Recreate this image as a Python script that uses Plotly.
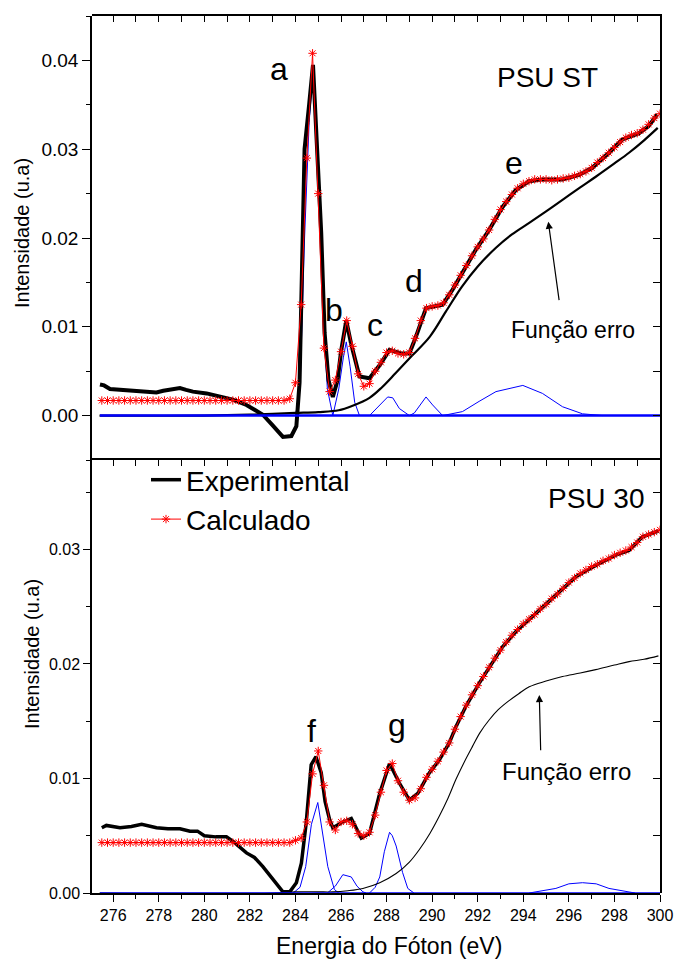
import plotly.graph_objects as go

# ---------------- data: top panel (PSU ST) ----------------
exp_st_x = [275.42, 275.6, 275.86, 276.3, 277.17, 277.6, 277.9, 278.2, 278.6, 278.93, 279.2, 279.5,
            280.1, 280.7, 281.25, 281.85, 282.2, 282.57, 283.0, 283.45, 283.82, 284.04, 284.18, 284.3,
            284.4, 284.6, 284.77, 284.95, 285.13, 285.28, 285.45, 285.64, 285.85, 286.0, 286.23, 286.45,
            286.81, 287.25, 287.7, 288.13, 288.64, 289.0, 289.29, 289.73, 290.46, 290.9, 291.48, 291.92,
            292.5, 293.09, 293.67, 294.26, 294.84, 295.72, 296.45, 297.03, 297.76, 298.35, 299.08, 299.5,
            299.88]
exp_st_y = [0.0035, 0.0034, 0.0030, 0.0029, 0.0028, 0.0027, 0.0026, 0.0028, 0.0030, 0.0031, 0.0029, 0.0027,
            0.0025, 0.0021, 0.0018, 0.0012, 0.0007, 0.0001, -0.0011, -0.0024, -0.0023, -0.0012, 0.0037, 0.0180,
            0.0300, 0.0350, 0.0395, 0.0300, 0.0206, 0.0093, 0.0040, 0.0021, 0.0040, 0.0072, 0.0107, 0.0080,
            0.0044, 0.0042, 0.0057, 0.0074, 0.0070, 0.0070, 0.0089, 0.0121, 0.0125, 0.0142, 0.0168, 0.0187,
            0.0209, 0.0235, 0.0254, 0.0264, 0.0266, 0.0266, 0.0271, 0.0279, 0.0296, 0.0311, 0.0318, 0.0326,
            0.0339]

calc_x = [275.5, 275.75, 276.0, 276.25, 276.5, 276.75, 277.0, 277.25, 277.5, 277.75,
          278.0, 278.25, 278.5, 278.75, 279.0, 279.25, 279.5, 279.75, 280.0, 280.25,
          280.5, 280.75, 281.0, 281.25, 281.5, 281.75, 282.0, 282.25, 282.5, 282.75,
          283.0, 283.25, 283.5, 283.75, 284.0, 284.25, 284.5, 284.75, 285.0, 285.25,
          285.5, 285.75, 286.0, 286.25, 286.5, 286.75, 287.0, 287.25, 287.5, 287.75,
          288.0, 288.25, 288.5, 288.75, 289.0, 289.25, 289.5, 289.75, 290.0, 290.25,
          290.5, 290.75, 291.0, 291.25, 291.5, 291.75, 292.0, 292.25, 292.5, 292.75,
          293.0, 293.25, 293.5, 293.75, 294.0, 294.25, 294.5, 294.75, 295.0, 295.25,
          295.5, 295.75, 296.0, 296.25, 296.5, 296.75, 297.0, 297.25, 297.5, 297.75,
          298.0, 298.25, 298.5, 298.75, 299.0, 299.25, 299.5, 299.75, 300.0]

calc_st_y = [0.0017, 0.0017, 0.0017, 0.0017, 0.0017, 0.0017, 0.0017, 0.0017, 0.0017, 0.0017,
             0.0017, 0.0017, 0.0017, 0.0017, 0.0017, 0.0017, 0.0017, 0.0017, 0.0017, 0.0017,
             0.0017, 0.0017, 0.0017, 0.0017, 0.0017, 0.0017, 0.0017, 0.0017, 0.0017, 0.0017,
             0.0017, 0.0017, 0.0017, 0.0019, 0.0037, 0.0125, 0.0290, 0.0408, 0.0250, 0.0076,
             0.0027, 0.0040, 0.0072, 0.0107, 0.0078, 0.0047, 0.0033, 0.0036, 0.0050, 0.0060,
             0.0071, 0.0073, 0.0070, 0.0069, 0.0071, 0.0087, 0.0107, 0.0121, 0.0123, 0.0124,
             0.0127, 0.0136, 0.0147, 0.0158, 0.0169, 0.0180, 0.0190, 0.0199, 0.0209, 0.0221,
             0.0232, 0.0241, 0.0249, 0.0256, 0.0261, 0.0264, 0.0266, 0.0266, 0.0266, 0.0265,
             0.0266, 0.0267, 0.0268, 0.0270, 0.0272, 0.0275, 0.0279, 0.0285, 0.0290, 0.0296,
             0.0302, 0.0308, 0.0313, 0.0316, 0.0318, 0.0322, 0.0328, 0.0335, 0.0340]

erf_st_x = [275.4, 280.0, 282.0, 283.0, 284.0, 285.0, 285.9, 286.5, 287.25, 287.8, 288.4, 289.1, 289.9,
            290.6, 291.3, 292.0, 292.8, 293.5, 294.26, 295.0, 295.72, 296.5, 297.18, 298.0, 298.64,
            299.3, 299.9]
erf_st_y = [0.0, 0.0, 0.0001, 0.0002, 0.0003, 0.0004, 0.0006, 0.0011, 0.0020, 0.0032, 0.0048, 0.0067, 0.0089,
            0.0117, 0.0145, 0.0168, 0.0189, 0.0204, 0.0217, 0.0230, 0.0243, 0.0257, 0.0269, 0.0284, 0.0296,
            0.0310, 0.0324]

peak_a_x = [284.0, 284.2, 284.4, 284.6, 284.77, 285.0, 285.2, 285.4, 285.64]
peak_a_y = [0.0, 0.003, 0.020, 0.033, 0.0388, 0.028, 0.012, 0.003, 0.0]
peak_b_x = [285.64, 285.9, 286.1, 286.23, 286.4, 286.6, 286.81]
peak_b_y = [0.0, 0.003, 0.0065, 0.0083, 0.0055, 0.0015, 0.0]
peak_c_x = [287.25, 287.7, 288.05, 288.27, 288.56, 289.0]
peak_c_y = [0.0, 0.0012, 0.0021, 0.0020, 0.0008, 0.0]
peak_d_x = [289.0, 289.22, 289.73, 290.02, 290.46]
peak_d_y = [0.0, 0.0003, 0.0021, 0.0012, 0.0]
peak_e_x = [290.46, 291.33, 292.06, 292.8, 293.98, 294.84, 295.72, 296.6, 297.5]
peak_e_y = [0.0, 0.00045, 0.0016, 0.0027, 0.0034, 0.0025, 0.0010, 0.0002, 0.0]
base_x = [275.42, 300.0]
base_y = [0.0, 0.0]

# ---------------- data: bottom panel (PSU 30) ----------------
exp_30_x = [275.5, 275.7, 276.3, 276.8, 277.25, 277.9, 278.4, 278.93, 279.37, 279.7, 280.0, 280.5,
            280.97, 281.26, 281.85, 282.2, 282.57, 282.9, 283.16, 283.45, 283.75, 284.04, 284.26, 284.47,
            284.69, 284.9, 285.13, 285.3, 285.5, 285.64, 286.08, 286.45, 286.89, 287.25, 287.7, 288.13,
            288.56, 289.0, 289.37, 289.88, 290.31, 290.75, 291.04, 291.48, 292.06, 292.5, 293.09, 293.67,
            294.55, 295.43, 296.3, 297.18, 298.06, 298.64, 299.23, 299.93]
exp_30_y = [0.0057, 0.0059, 0.0057, 0.0058, 0.0060, 0.0057, 0.0056, 0.0056, 0.0054, 0.0054, 0.0050, 0.0049,
            0.0049, 0.0045, 0.0035, 0.0031, 0.0023, 0.0015, 0.0009, 0.0001, 0.0001, 0.0009, 0.0026, 0.0061,
            0.0112, 0.0119, 0.0105, 0.0080, 0.0064, 0.0057, 0.0062, 0.0065, 0.0048, 0.0052, 0.0087, 0.0113,
            0.0096, 0.0081, 0.0087, 0.0105, 0.0116, 0.0131, 0.0145, 0.0163, 0.0183, 0.0197, 0.0215, 0.0228,
            0.0244, 0.0260, 0.0276, 0.0286, 0.0295, 0.0299, 0.0311, 0.0316]

calc_30_y = [0.0044, 0.0044, 0.0044, 0.0044, 0.0044, 0.0044, 0.0044, 0.0044, 0.0044, 0.0044,
             0.0044, 0.0044, 0.0044, 0.0044, 0.0044, 0.0044, 0.0044, 0.0044, 0.0044, 0.0044,
             0.0044, 0.0044, 0.0044, 0.0044, 0.0044, 0.0044, 0.0044, 0.0044, 0.0044, 0.0044,
             0.0044, 0.0044, 0.0044, 0.0044, 0.0046, 0.0048, 0.0062, 0.0104, 0.0124, 0.0094,
             0.0062, 0.0055, 0.0062, 0.0063, 0.0060, 0.0052, 0.0050, 0.0053, 0.0068, 0.0088,
             0.0107, 0.0113, 0.0098, 0.0088, 0.0081, 0.0083, 0.0091, 0.0101, 0.0108, 0.0115,
             0.0123, 0.0131, 0.0143, 0.0154, 0.0164, 0.0173, 0.0181, 0.0189, 0.0197, 0.0205,
             0.0212, 0.0219, 0.0225, 0.0230, 0.0235, 0.0239, 0.0243, 0.0248, 0.0252, 0.0257,
             0.0261, 0.0266, 0.0271, 0.0275, 0.0279, 0.0282, 0.0285, 0.0287, 0.0290, 0.0292,
             0.0295, 0.0297, 0.0299, 0.0302, 0.0306, 0.0311, 0.0313, 0.0315, 0.0317]

erf_30_x = [275.4, 283.0, 284.0, 285.0, 285.64, 286.3, 286.96, 287.7, 288.42, 289.0, 289.44, 289.9,
            290.31, 290.7, 291.04, 291.4, 291.77, 292.1, 292.5, 292.9, 293.38, 293.8, 294.26, 295.0,
            295.72, 296.5, 297.18, 298.0, 298.64, 299.3, 299.93]
erf_30_y = [0.0, 0.0, 0.0001, 0.0001, 0.0001, 0.0002, 0.0004, 0.0009, 0.0017, 0.0027, 0.0038, 0.0052,
            0.0067, 0.0083, 0.0099, 0.0114, 0.0128, 0.0140, 0.0151, 0.0160, 0.0168, 0.0174, 0.0180, 0.0185,
            0.0189, 0.0192, 0.0195, 0.0199, 0.0202, 0.0204, 0.0207]

peak_f_x = [283.9, 284.2, 284.45, 284.7, 284.98, 285.2, 285.42, 285.71, 285.9]
peak_f_y = [0.0, 0.0005, 0.0023, 0.0060, 0.0079, 0.0050, 0.0023, 0.0003, 0.0]
peak_f2_x = [285.4, 285.75, 286.08, 286.45, 286.7, 286.96, 287.1]
peak_f2_y = [0.0, 0.0006, 0.0016, 0.0014, 0.0006, 0.0001, 0.0]
peak_g_x = [287.25, 287.5, 287.7, 287.9, 288.13, 288.25, 288.42, 288.7, 288.93, 289.2]
peak_g_y = [0.0, 0.0005, 0.0014, 0.0036, 0.0053, 0.0050, 0.0041, 0.0018, 0.0004, 0.0]
peak_h_x = [294.26, 295.43, 296.0, 296.6, 297.2, 297.76, 298.9]
peak_h_y = [0.0, 0.0004, 0.0008, 0.0009, 0.0008, 0.0004, 0.0]

# ---------------- figure ----------------
FONT = "Arial"
BLUE = "#0000ff"
RED = "#ff0000"
fig = go.Figure()


def blue(x, y, xa, ya, w=1):
    fig.add_trace(go.Scatter(x=x, y=y, mode="lines", line=dict(color=BLUE, width=w),
                             xaxis=xa, yaxis=ya, showlegend=False, hoverinfo="skip"))


# top panel
for px_, py_ in [(peak_a_x, peak_a_y), (peak_b_x, peak_b_y), (peak_c_x, peak_c_y),
                 (peak_d_x, peak_d_y), (peak_e_x, peak_e_y)]:
    blue(px_, py_, "x", "y")
fig.add_trace(go.Scatter(x=erf_st_x, y=erf_st_y, mode="lines", line=dict(color="black", width=2.2),
                         line_shape="spline", xaxis="x", yaxis="y", showlegend=False))
fig.add_trace(go.Scatter(x=exp_st_x, y=exp_st_y, mode="lines", line=dict(color="black", width=4),
                         xaxis="x", yaxis="y", showlegend=False))
fig.add_trace(go.Scatter(x=calc_x, y=calc_st_y, mode="lines+markers",
                         line=dict(color=RED, width=1),
                         marker=dict(symbol="asterisk", size=7, line=dict(color=RED, width=1)),
                         xaxis="x", yaxis="y", showlegend=False))

# bottom panel
for px_, py_ in [(peak_f_x, peak_f_y), (peak_f2_x, peak_f2_y), (peak_g_x, peak_g_y), (peak_h_x, peak_h_y)]:
    blue(px_, py_, "x2", "y2")
fig.add_trace(go.Scatter(x=erf_30_x, y=erf_30_y, mode="lines", line=dict(color="black", width=1.1),
                         line_shape="spline", xaxis="x2", yaxis="y2", showlegend=False))
fig.add_trace(go.Scatter(x=exp_30_x, y=exp_30_y, mode="lines", line=dict(color="black", width=3.5),
                         xaxis="x2", yaxis="y2", name="Experimental", showlegend=True))
fig.add_trace(go.Scatter(x=calc_x, y=calc_30_y, mode="lines+markers",
                         line=dict(color=RED, width=1),
                         marker=dict(symbol="asterisk", size=7, line=dict(color=RED, width=1)),
                         xaxis="x2", yaxis="y2", name="Calculado", showlegend=True))

# zero baselines of the fitted components, placed on twin subplots (x3/y3, x4/y4)
# that carry the top and right frame ticks
blue(base_x, base_y, "x3", "y3", 2.5)
blue(base_x, base_y, "x4", "y4", 1.5)

XR = [275.07, 300.0]
YR1 = [-0.005, 0.045]
YR2 = [0.0, 0.0378]
SPLIT = 1 - (460 - 16) / 877
TOP = [SPLIT, 1]
BOT = [0, SPLIT]

ax_common = dict(showgrid=False, zeroline=False, showline=True, linecolor="black", linewidth=1.5,
                 tickcolor="black", tickwidth=1.3)
HIDDEN_LABELS = dict(size=1, color="rgba(0,0,0,0)")


def xminor(ticks, ln):
    return dict(ticks=ticks, ticklen=ln, dtick=1, tick0=276, tickcolor="black")


def yminor(ticks, ln):
    return dict(ticks=ticks, ticklen=ln, dtick=0.005, tick0=0, tickcolor="black")


def edge_x(anchor):
    # top edge of a panel: ticks pointing into the plot, labels invisible
    return dict(**ax_common, domain=[0, 1], side="top", anchor=anchor, range=XR, ticks="inside",
                ticklen=6, tick0=276, dtick=1, tickfont=HIDDEN_LABELS)


def edge_y(domain, anchor, rng):
    # right edge of a panel: ticks pointing into the plot, labels invisible
    return dict(**ax_common, domain=domain, side="right", anchor=anchor, range=rng, ticks="inside",
                ticklen=7, tick0=0, dtick=0.005, tickfont=HIDDEN_LABELS)


fig.update_layout(
    width=675, height=962, autosize=False,
    margin=dict(l=92, r=15, t=16, b=69, autoexpand=False),
    paper_bgcolor="white", plot_bgcolor="rgba(0,0,0,0)",
    font=dict(family=FONT, color="black"),
    # top panel: main axes (left ticks outside; the bottom edge line comes from xaxis4)
    xaxis=dict(showgrid=False, zeroline=False, showline=False, domain=[0, 1],
               anchor="y", range=XR, ticks="", showticklabels=False),
    yaxis=dict(**ax_common, domain=TOP, anchor="x", range=YR1, ticks="outside", ticklen=8,
               tick0=0, dtick=0.01, tickformat=".2f", tickfont=dict(size=19),
               minor=yminor("outside", 4)),
    xaxis3=edge_x("y3"),
    yaxis3=edge_y(TOP, "x3", YR1),
    # bottom panel: main axes
    xaxis2=dict(**ax_common, domain=[0, 1], anchor="y2", range=XR, ticks="outside", ticklen=7,
                tick0=276, dtick=2, tickfont=dict(size=16), minor=xminor("outside", 4)),
    yaxis2=dict(**ax_common, domain=BOT, anchor="x2", range=YR2, ticks="outside", ticklen=7,
                tick0=0, dtick=0.01, tickformat=".2f", tickfont=dict(size=16),
                minor=yminor("outside", 4)),
    xaxis4=edge_x("y4"),
    yaxis4=edge_y(BOT, "x4", YR2),
    legend=dict(x=(146 - 92) / 568, y=1 - (455 - 16) / 877, xanchor="left", yanchor="top",
                bgcolor="rgba(0,0,0,0)", borderwidth=0, font=dict(size=28, family=FONT),
                tracegroupgap=0),
)


def P(px, py):
    return (px - 92) / 568, 1 - (py - 16) / 877


def label(text, px, py, size):
    x, y = P(px, py)
    fig.add_annotation(x=x, y=y, xref="paper", yref="paper", text=text, showarrow=False,
                       font=dict(size=size, family=FONT, color="black"),
                       xanchor="center", yanchor="middle")


label("a", 279, 69, 32)
label("b", 334, 310, 32)
label("c", 375, 325, 32)
label("d", 414, 281, 32)
label("e", 514, 163, 32)
label("PSU ST", 547.5, 78, 28)
label("Função erro", 573, 330, 23)
label("f", 311, 731, 32)
label("g", 397, 725, 32)
label("PSU 30", 596.7, 498, 28)
label("Função erro", 566.7, 771.5, 24)
label("Energia do Fóton (eV)", 388.5, 946, 23)

for px, py in [(22, 233), (32, 654)]:
    x, y = P(px, py)
    fig.add_annotation(x=x, y=y, xref="paper", yref="paper", text="Intensidade (u.a)",
                       showarrow=False, textangle=-90, font=dict(size=20, family=FONT, color="black"),
                       xanchor="center", yanchor="middle")

# arrows pointing at the error-function curves
for head, tail in [((548.3, 221.7), (559.3, 301.7)), ((539.3, 695.0), (540.7, 751.7))]:
    x, y = P(*head)
    fig.add_annotation(x=x, y=y, xref="paper", yref="paper", text="", showarrow=True,
                       ax=tail[0] - head[0], ay=tail[1] - head[1], arrowhead=2, arrowsize=1.2,
                       arrowwidth=1.2, arrowcolor="black", standoff=0)

fig.write_html("out.html",
               config={"displayModeBar": False, "responsive": False},
               post_script="document.body.style.margin='0';document.body.style.overflow='hidden';")
